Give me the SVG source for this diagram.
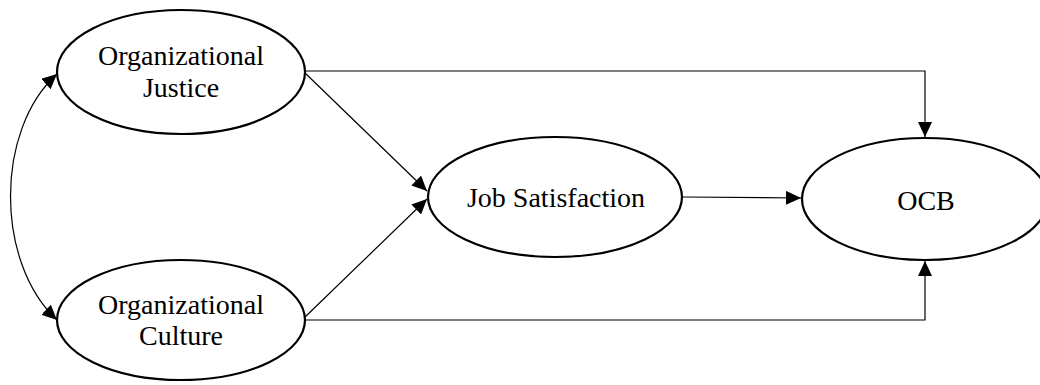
<svg xmlns="http://www.w3.org/2000/svg" width="1040" height="385" viewBox="0 0 1040 385">
<style>
.node ellipse{fill:#fff;stroke:#000;stroke-width:2.2}
.node text{font-family:"Liberation Serif","Times New Roman",serif;font-size:28px;fill:#000;text-anchor:middle}
.edge{fill:none;stroke:#000;stroke-width:1.2}
</style>
<defs>
<marker id="arr" viewBox="0 0 15 14" refX="15" refY="7" markerWidth="15" markerHeight="14" markerUnits="userSpaceOnUse" orient="auto-start-reverse">
<path d="M0,0 L15,7 L0,14 Z" fill="#000"/>
</marker>
</defs>
<g id="connectors">
<path class="edge" d="M305,71 H925 V137" marker-end="url(#arr)"/>
<path class="edge" d="M305,320 H925 V261" marker-end="url(#arr)"/>
<path class="edge" d="M304,72 L427,191" marker-end="url(#arr)"/>
<path class="edge" d="M304,318 L427,199" marker-end="url(#arr)"/>
<path class="edge" d="M683,197 L801,198" marker-end="url(#arr)"/>
<path class="edge" d="M57,74 C-5,130 -5,262 57,320" marker-start="url(#arr)" marker-end="url(#arr)"/>
</g>
<g id="node-justice" class="node">
<ellipse cx="181" cy="72" rx="124" ry="62"/>
<text x="181" y="65">Organizational</text>
<text x="181" y="97">Justice</text>
</g>
<g id="node-culture" class="node">
<ellipse cx="181" cy="320" rx="124" ry="60"/>
<text x="181" y="314">Organizational</text>
<text x="181" y="345">Culture</text>
</g>
<g id="node-jobsat" class="node">
<ellipse cx="555" cy="197" rx="127" ry="60"/>
<text x="556" y="207">Job Satisfaction</text>
</g>
<g id="node-ocb" class="node">
<ellipse cx="925" cy="199" rx="123" ry="61"/>
<text x="926" y="210">OCB</text>
</g>
</svg>
